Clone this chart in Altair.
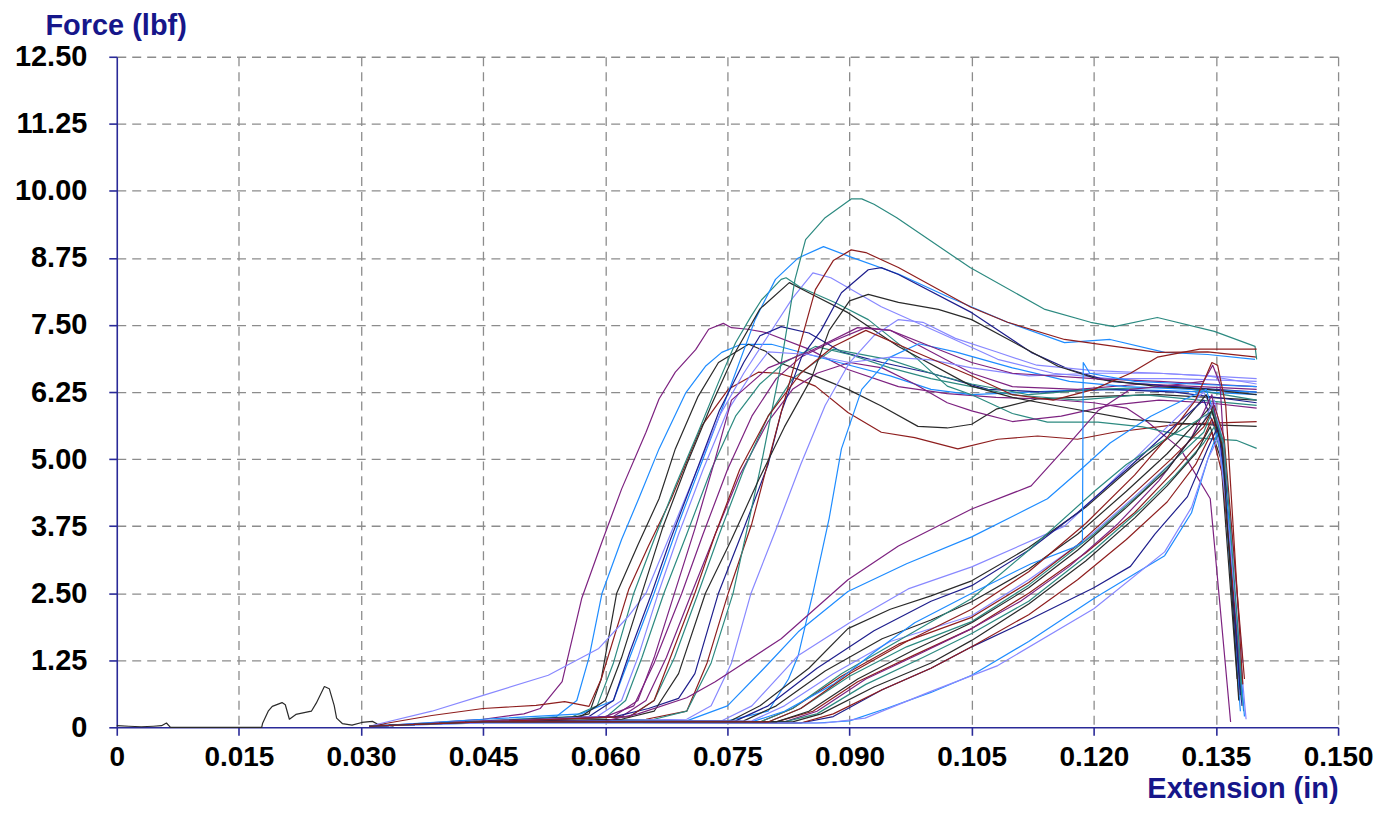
import altair as alt
import pandas as pd

X_TICKS = [0, 0.015, 0.030, 0.045, 0.060, 0.075, 0.090, 0.105, 0.120, 0.135, 0.150]
Y_TICKS = [0, 1.25, 2.50, 3.75, 5.00, 6.25, 7.50, 8.75, 10.00, 11.25, 12.50]

# ---- specimen curves: (extension in, force lbf) ----
C00 = [(0.0, 0.03), (0.0015, 0.02), (0.003, 0.01), (0.0045, 0.02), (0.0055, 0.03), (0.0061, 0.08), (0.0066, 0.0),
       (0.010, 0.0), (0.0178, 0.0), (0.0179, 0.07), (0.0186, 0.3), (0.0191, 0.39), (0.0203, 0.46), (0.0207, 0.42),
       (0.0212, 0.15), (0.022, 0.24), (0.0239, 0.30), (0.0245, 0.45), (0.0255, 0.76), (0.0261, 0.72), (0.0267, 0.41),
       (0.027, 0.17), (0.0277, 0.07), (0.0289, 0.04), (0.0301, 0.09), (0.0314, 0.11), (0.032, 0.06), (0.034, 0.02)]

A01 = [(0.031, 0.02), (0.038, 0.08), (0.045, 0.15), (0.050, 0.25), (0.052, 0.35), (0.0547, 0.85), (0.0571, 2.4),
       (0.0596, 3.46), (0.062, 4.44), (0.065, 5.5), (0.0666, 6.12), (0.0686, 6.62), (0.0711, 7.04), (0.0727, 7.42),
       (0.0745, 7.53), (0.0755, 7.45), (0.0775, 7.42), (0.0797, 7.36), (0.085, 7.05), (0.0898, 6.67), (0.096, 6.35),
       (0.102, 6.22), (0.108, 6.15), (0.114, 6.12), (0.120, 6.05), (0.124, 5.95), (0.1266, 5.69), (0.1306, 5.2),
       (0.1343, 4.26), (0.1368, 0.1)]
A02 = [(0.031, 0.02), (0.045, 0.1), (0.054, 0.2), (0.0565, 0.5), (0.058, 1.3), (0.0596, 2.5), (0.062, 3.5),
       (0.0641, 4.26), (0.0666, 5.19), (0.0699, 6.24), (0.0723, 6.73), (0.0743, 6.99), (0.0767, 7.14), (0.0804, 7.14),
       (0.085, 6.95), (0.090, 6.75), (0.095, 6.55), (0.100, 6.3), (0.105, 6.2), (0.112, 6.25), (0.120, 6.3),
       (0.128, 6.28), (0.134, 6.25), (0.140, 6.2)]
A03 = [(0.031, 0.02), (0.045, 0.1), (0.055, 0.15), (0.058, 0.25), (0.0595, 0.9), (0.0614, 2.5), (0.064, 3.4),
       (0.0666, 4.26), (0.0686, 5.19), (0.0714, 6.17), (0.0739, 6.8), (0.0776, 7.14), (0.0797, 7.01), (0.0813, 6.8),
       (0.0853, 6.58), (0.0898, 6.3), (0.0939, 5.99), (0.0984, 5.61), (0.102, 5.58), (0.105, 5.65), (0.108, 5.93),
       (0.113, 6.12), (0.1205, 6.17), (0.128, 6.2), (0.134, 6.15), (0.140, 6.1)]
A04 = [(0.031, 0.02), (0.0387, 0.22), (0.045, 0.35), (0.0515, 0.41), (0.055, 0.48), (0.058, 0.39), (0.0595, 0.9),
       (0.0629, 2.58), (0.0653, 3.38), (0.0681, 4.26), (0.0718, 5.61), (0.0751, 6.3), (0.0788, 6.62), (0.0813, 6.6),
       (0.0837, 6.49), (0.0858, 6.36), (0.0898, 5.87), (0.0939, 5.5), (0.098, 5.4), (0.1033, 5.19), (0.1082, 5.37),
       (0.1131, 5.43), (0.118, 5.37), (0.1225, 5.5), (0.1306, 5.65), (0.140, 5.7)]
A05 = [(0.031, 0.02), (0.045, 0.12), (0.056, 0.2), (0.059, 0.4), (0.061, 1.2), (0.0635, 2.5), (0.066, 3.5),
       (0.0686, 4.5), (0.0714, 5.5), (0.0739, 6.43), (0.076, 7.17), (0.0779, 7.66), (0.0792, 7.97), (0.0816, 8.35),
       (0.0822, 8.38), (0.084, 8.2), (0.0882, 7.92), (0.0923, 7.6), (0.098, 6.91), (0.102, 6.36), (0.105, 6.2),
       (0.110, 5.85), (0.1143, 5.69), (0.1205, 5.69), (0.126, 5.6), (0.132, 5.4), (0.1375, 5.35), (0.140, 5.2)]
A06 = [(0.031, 0.02), (0.045, 0.15), (0.057, 0.25), (0.061, 0.5), (0.063, 1.3), (0.066, 2.5), (0.069, 3.8),
       (0.072, 5.0), (0.075, 6.2), (0.0784, 7.6), (0.0809, 8.35), (0.0837, 8.75), (0.0868, 8.96), (0.0901, 8.77),
       (0.096, 8.45), (0.102, 8.03), (0.1094, 7.55), (0.1164, 7.17), (0.122, 7.23), (0.1287, 6.99), (0.134, 6.95),
       (0.1398, 6.86)]
A07 = [(0.031, 0.02), (0.0387, 0.3), (0.0449, 0.59), (0.053, 0.97), (0.0592, 1.47), (0.0629, 2.08), (0.065, 2.5),
       (0.068, 3.6), (0.071, 4.7), (0.074, 5.8), (0.077, 6.6), (0.080, 7.3), (0.083, 8.0), (0.0855, 8.47),
       (0.0877, 8.38), (0.0939, 7.84), (0.102, 7.29), (0.1082, 6.86), (0.115, 6.6), (0.122, 6.5), (0.130, 6.5),
       (0.140, 6.45)]
A08 = [(0.031, 0.02), (0.045, 0.1), (0.058, 0.2), (0.061, 0.5), (0.063, 1.4), (0.0657, 2.5), (0.068, 3.5),
       (0.071, 4.7), (0.074, 5.9), (0.077, 6.8), (0.079, 7.3), (0.0816, 7.47), (0.085, 7.35), (0.089, 7.0),
       (0.094, 6.8), (0.100, 6.6), (0.107, 6.3), (0.114, 6.25), (0.122, 6.3), (0.130, 6.25), (0.140, 6.05)]
A09 = [(0.031, 0.02), (0.045, 0.1), (0.060, 0.18), (0.0625, 0.5), (0.0645, 1.3), (0.0672, 2.5), (0.070, 3.6),
       (0.073, 4.8), (0.076, 5.8), (0.079, 6.4), (0.082, 6.8), (0.0858, 7.1), (0.090, 6.95), (0.095, 6.7),
       (0.100, 6.5), (0.105, 6.35), (0.110, 6.2), (0.118, 6.1), (0.126, 6.2), (0.133, 6.1), (0.140, 6.0)]
A10 = [(0.031, 0.02), (0.045, 0.12), (0.060, 0.2), (0.0635, 0.4), (0.066, 1.2), (0.0694, 2.5), (0.072, 3.6),
       (0.075, 4.8), (0.078, 5.8), (0.081, 6.5), (0.084, 6.9), (0.088, 7.2), (0.092, 7.45), (0.095, 7.4),
       (0.100, 7.0), (0.105, 6.6), (0.110, 6.35), (0.118, 6.3), (0.126, 6.4), (0.133, 6.35), (0.140, 6.3)]
A11 = [(0.031, 0.02), (0.045, 0.1), (0.062, 0.2), (0.065, 0.5), (0.0675, 1.3), (0.0706, 2.5), (0.0735, 3.6),
       (0.0765, 4.7), (0.080, 5.7), (0.083, 6.3), (0.086, 6.6), (0.090, 6.8), (0.094, 6.7), (0.098, 6.4),
       (0.102, 6.05), (0.105, 5.9), (0.110, 5.7), (0.116, 5.8), (0.122, 6.0), (0.128, 6.1), (0.134, 6.05),
       (0.140, 5.95)]
A12 = [(0.031, 0.02), (0.045, 0.1), (0.063, 0.2), (0.066, 0.5), (0.0685, 1.3), (0.0714, 2.5), (0.074, 3.6),
       (0.077, 4.8), (0.080, 5.8), (0.083, 6.5), (0.088, 7.05), (0.095, 6.85), (0.100, 6.6), (0.105, 6.4),
       (0.112, 6.2), (0.120, 6.3), (0.130, 6.35), (0.140, 6.1)]
A13 = [(0.031, 0.02), (0.045, 0.1), (0.057, 0.2), (0.060, 0.5), (0.062, 1.3), (0.0645, 2.5), (0.067, 3.7),
       (0.070, 4.9), (0.073, 6.0), (0.076, 7.0), (0.079, 7.8), (0.0826, 8.29), (0.085, 8.1), (0.0898, 7.73),
       (0.096, 7.1), (0.105, 6.36), (0.110, 6.15), (0.1156, 5.99), (0.1245, 5.74), (0.132, 5.65), (0.140, 5.61)]
A14 = [(0.031, 0.02), (0.045, 0.1), (0.0612, 0.2), (0.0653, 0.35), (0.069, 0.54), (0.071, 1.0), (0.0739, 2.5),
       (0.077, 3.7), (0.080, 4.9), (0.0816, 5.87), (0.0841, 6.9), (0.0865, 7.4), (0.089, 8.1), (0.0923, 8.53),
       (0.0939, 8.57), (0.096, 8.44), (0.105, 7.73), (0.1123, 6.99), (0.117, 6.67), (0.122, 6.45), (0.130, 6.35),
       (0.140, 6.25)]
A15 = [(0.031, 0.02), (0.045, 0.1), (0.065, 0.15), (0.070, 0.3), (0.0725, 1.2), (0.0751, 2.5), (0.078, 3.8),
       (0.0816, 5.87), (0.0841, 7.23), (0.0858, 8.16), (0.088, 8.7), (0.0902, 8.9), (0.092, 8.85), (0.096, 8.57),
       (0.1049, 7.83), (0.1094, 7.55), (0.1164, 7.23), (0.1278, 6.99), (0.134, 7.0), (0.140, 6.9)]
A16 = [(0.031, 0.02), (0.045, 0.1), (0.066, 0.15), (0.070, 0.3), (0.073, 1.2), (0.0757, 2.5), (0.0792, 4.94),
       (0.0815, 6.7), (0.0833, 8.35), (0.0846, 9.09), (0.087, 9.5), (0.0902, 9.85), (0.0915, 9.85), (0.093, 9.75),
       (0.0958, 9.5), (0.1048, 8.57), (0.114, 7.79), (0.1196, 7.55), (0.1225, 7.47), (0.1278, 7.64), (0.1348, 7.38),
       (0.1398, 7.1), (0.140, 6.86)]
A17 = [(0.031, 0.02), (0.045, 0.1), (0.070, 0.15), (0.073, 0.4), (0.0755, 1.2), (0.0779, 2.5), (0.081, 3.7),
       (0.084, 4.9), (0.087, 6.0), (0.090, 6.8), (0.093, 7.3), (0.096, 7.6), (0.099, 7.55), (0.103, 7.25),
       (0.108, 7.0), (0.113, 6.75), (0.120, 6.65), (0.128, 6.6), (0.134, 6.55), (0.140, 6.5)]
A18 = [(0.031, 0.02), (0.045, 0.1), (0.075, 0.12), (0.080, 0.3), (0.0825, 0.9), (0.0837, 1.34), (0.0855, 2.5),
       (0.0875, 3.9), (0.089, 5.19), (0.0915, 6.3), (0.095, 6.9), (0.0985, 7.15), (0.103, 7.0), (0.110, 6.7),
       (0.117, 6.45), (0.124, 6.35), (0.132, 6.3), (0.140, 6.25)]
A19 = [(0.031, 0.02), (0.045, 0.1), (0.059, 0.2), (0.062, 0.5), (0.064, 1.3), (0.0665, 2.5), (0.069, 3.6),
       (0.072, 4.8), (0.075, 5.9), (0.078, 6.6), (0.080, 7.0), (0.085, 6.95), (0.090, 6.8), (0.095, 6.9),
       (0.100, 6.85), (0.105, 6.7), (0.112, 6.55), (0.120, 6.6), (0.128, 6.6), (0.134, 6.55), (0.140, 6.4)]
A20 = [(0.031, 0.02), (0.045, 0.1), (0.062, 0.15), (0.066, 0.3), (0.069, 1.0), (0.0723, 2.5), (0.0755, 3.5),
       (0.0788, 4.6), (0.082, 5.6), (0.0853, 6.5), (0.0875, 7.4), (0.090, 7.95), (0.0923, 8.07), (0.096, 7.92),
       (0.1009, 7.79), (0.105, 7.6), (0.1156, 6.73), (0.1205, 6.49), (0.128, 6.35), (0.134, 6.3), (0.140, 6.2)]
A21 = [(0.031, 0.02), (0.045, 0.1), (0.061, 0.2), (0.064, 0.5), (0.066, 1.3), (0.0685, 2.5), (0.071, 3.7),
       (0.0735, 5.0), (0.0755, 6.1), (0.080, 6.7), (0.085, 7.0), (0.091, 7.45), (0.095, 7.4), (0.100, 7.1),
       (0.105, 6.8), (0.110, 6.6), (0.120, 6.5), (0.128, 6.45), (0.134, 6.4), (0.140, 6.35)]
A22 = [(0.031, 0.02), (0.045, 0.1), (0.063, 0.2), (0.066, 0.5), (0.068, 1.3), (0.071, 2.5), (0.0735, 3.6),
       (0.0765, 4.8), (0.080, 5.8), (0.084, 6.6), (0.088, 7.1), (0.092, 7.4), (0.098, 7.0), (0.105, 6.55),
       (0.110, 6.2), (0.115, 6.1), (0.120, 6.3), (0.1245, 6.6), (0.1278, 6.9), (0.133, 7.05), (0.140, 7.05)]

B01 = [(0.031, 0.02), (0.045, 0.1), (0.060, 0.12), (0.064, 0.25), (0.070, 0.55), (0.0735, 0.85), (0.0816, 1.65),
       (0.0898, 2.75), (0.096, 3.38), (0.105, 4.07), (0.1123, 4.5), (0.1164, 5.19), (0.1205, 5.9), (0.1245, 6.3),
       (0.128, 6.35), (0.1335, 6.45), (0.1346, 6.75), (0.1355, 6.4), (0.1378, 0.6)]
B02 = [(0.031, 0.02), (0.045, 0.1), (0.070, 0.12), (0.075, 0.4), (0.0795, 1.1), (0.0837, 1.78), (0.0898, 2.53),
       (0.097, 3.05), (0.105, 3.55), (0.1143, 4.26), (0.118, 4.75), (0.122, 5.3), (0.127, 5.8), (0.131, 6.1),
       (0.1338, 6.3), (0.1355, 5.5), (0.1380, 0.3)]
B03 = [(0.031, 0.02), (0.045, 0.1), (0.074, 0.1), (0.078, 0.4), (0.0837, 1.34), (0.090, 1.95), (0.0972, 2.58),
       (0.105, 2.99), (0.1164, 3.75), (0.121, 4.4), (0.125, 5.0), (0.129, 5.6), (0.1335, 6.25), (0.1355, 5.6),
       (0.1381, 0.5)]
B04 = [(0.031, 0.02), (0.045, 0.1), (0.0751, 0.1), (0.079, 0.4), (0.085, 1.1), (0.0898, 1.84), (0.095, 2.2),
       (0.100, 2.45), (0.105, 2.73), (0.112, 3.35), (0.119, 4.1), (0.125, 4.9), (0.130, 5.5), (0.1338, 6.2),
       (0.1356, 5.4), (0.1380, 0.9)]
B05 = [(0.031, 0.02), (0.045, 0.1), (0.076, 0.12), (0.080, 0.4), (0.086, 1.1), (0.093, 1.8), (0.100, 2.35),
       (0.105, 2.64), (0.112, 3.3), (0.118, 4.0), (0.124, 4.8), (0.129, 5.5), (0.1335, 6.1), (0.1356, 5.3),
       (0.1382, 0.4)]
B06 = [(0.031, 0.02), (0.045, 0.1), (0.077, 0.12), (0.081, 0.4), (0.087, 1.05), (0.094, 1.65), (0.100, 2.0),
       (0.105, 2.34), (0.112, 2.95), (0.118, 3.6), (0.124, 4.4), (0.129, 5.1), (0.1333, 5.8), (0.1345, 6.0),
       (0.1358, 5.0), (0.1380, 0.7)]
B07 = [(0.031, 0.02), (0.045, 0.1), (0.078, 0.12), (0.082, 0.4), (0.088, 1.0), (0.095, 1.6), (0.105, 2.08),
       (0.112, 2.75), (0.119, 3.5), (0.125, 4.3), (0.130, 5.0), (0.1335, 5.7), (0.1348, 6.1), (0.136, 5.2),
       (0.1383, 1.2)]
B08 = [(0.031, 0.02), (0.045, 0.1), (0.079, 0.1), (0.083, 0.35), (0.089, 0.95), (0.096, 1.55), (0.105, 2.05),
       (0.112, 2.7), (0.118, 3.4), (0.1245, 4.3), (0.1295, 5.0), (0.1335, 5.6), (0.1348, 6.0), (0.136, 5.4),
       (0.1385, 0.9)]
B09 = [(0.031, 0.02), (0.045, 0.1), (0.080, 0.1), (0.084, 0.35), (0.090, 0.95), (0.097, 1.5), (0.105, 1.97),
       (0.112, 2.65), (0.120, 3.6), (0.126, 4.4), (0.130, 5.0), (0.1335, 5.5), (0.1347, 5.95), (0.1358, 5.3),
       (0.1382, 0.5)]
B10 = [(0.031, 0.02), (0.045, 0.1), (0.081, 0.1), (0.0855, 0.3), (0.091, 0.85), (0.098, 1.35), (0.105, 1.84),
       (0.112, 2.5), (0.119, 3.25), (0.125, 4.0), (0.130, 4.8), (0.1335, 5.4), (0.1345, 5.75), (0.1357, 5.3),
       (0.1378, 1.5)]
B11 = [(0.031, 0.02), (0.045, 0.1), (0.082, 0.1), (0.086, 0.3), (0.092, 0.9), (0.099, 1.4), (0.105, 1.84),
       (0.111, 2.35), (0.117, 3.0), (0.123, 3.8), (0.128, 4.6), (0.132, 5.4), (0.1345, 6.2), (0.1358, 5.0),
       (0.1380, 1.0)]
B12 = [(0.031, 0.02), (0.045, 0.1), (0.082, 0.1), (0.086, 0.25), (0.092, 0.8), (0.099, 1.3), (0.105, 1.75),
       (0.112, 2.35), (0.120, 3.3), (0.126, 4.1), (0.130, 4.7), (0.1335, 5.3), (0.1348, 5.6), (0.1360, 4.8),
       (0.1384, 0.3)]
B13 = [(0.031, 0.02), (0.045, 0.1), (0.083, 0.1), (0.0865, 0.25), (0.093, 0.75), (0.100, 1.2), (0.105, 1.62),
       (0.112, 2.3), (0.119, 3.1), (0.125, 3.9), (0.129, 4.5), (0.1325, 5.1), (0.1343, 5.6), (0.1356, 5.0),
       (0.1376, 0.9)]
B14 = [(0.031, 0.02), (0.045, 0.1), (0.084, 0.08), (0.088, 0.2), (0.094, 0.7), (0.100, 1.1), (0.105, 1.5),
       (0.112, 2.0), (0.120, 2.6), (0.1245, 3.0), (0.1275, 3.6), (0.1315, 4.3), (0.134, 5.2), (0.1352, 5.6),
       (0.1362, 4.5), (0.1380, 0.6)]
B15 = [(0.031, 0.02), (0.045, 0.1), (0.084, 0.08), (0.088, 0.25), (0.094, 0.7), (0.100, 1.1), (0.105, 1.5),
       (0.112, 2.1), (0.118, 2.75), (0.124, 3.5), (0.129, 4.2), (0.1325, 4.9), (0.1345, 5.5), (0.1358, 4.7),
       (0.1379, 1.3)]
B16 = [(0.031, 0.02), (0.045, 0.08), (0.086, 0.08), (0.090, 0.12), (0.0945, 0.35), (0.100, 0.65), (0.105, 0.97),
       (0.112, 1.6), (0.120, 2.4), (0.1287, 3.2), (0.132, 4.0), (0.134, 5.0), (0.1352, 5.5), (0.1365, 4.0),
       (0.1385, 0.2)]
B17 = [(0.031, 0.02), (0.045, 0.08), (0.087, 0.08), (0.0919, 0.17), (0.100, 0.67), (0.1082, 1.15), (0.120, 2.21),
       (0.1287, 3.27), (0.132, 4.1), (0.134, 5.0), (0.1353, 5.4), (0.1367, 3.5), (0.1387, 0.15)]
B18 = [(0.031, 0.02), (0.045, 0.1), (0.079, 0.1), (0.083, 0.35), (0.089, 1.0), (0.097, 1.7), (0.105, 2.4),
       (0.112, 3.3), (0.120, 4.39), (0.124, 4.9), (0.128, 5.3), (0.1325, 5.7), (0.1346, 5.9), (0.136, 5.3),
       (0.1382, 0.8)]
B19 = [(0.031, 0.02), (0.045, 0.1), (0.078, 0.1), (0.082, 0.3), (0.088, 0.8), (0.093, 1.4), (0.098, 1.95),
       (0.105, 2.5), (0.1123, 3.05), (0.1175, 3.35), (0.1186, 3.45), (0.1187, 6.8), (0.1195, 6.6), (0.125, 6.45),
       (0.132, 6.4), (0.140, 6.35)]
B20 = [(0.031, 0.02), (0.045, 0.1), (0.081, 0.1), (0.085, 0.3), (0.091, 0.9), (0.098, 1.45), (0.105, 1.95),
       (0.112, 2.6), (0.118, 3.3), (0.124, 4.1), (0.129, 4.8), (0.133, 5.6), (0.1345, 5.9), (0.1358, 5.2),
       (0.1378, 0.5)]
B21 = [(0.031, 0.02), (0.045, 0.1), (0.080, 0.1), (0.084, 0.35), (0.090, 1.0), (0.097, 1.6), (0.105, 2.2),
       (0.112, 2.9), (0.119, 3.8), (0.125, 4.7), (0.129, 5.4), (0.1325, 6.1), (0.1345, 6.8), (0.1352, 6.75),
       (0.1362, 6.0), (0.1383, 0.8)]

# colour key of each specimen
SERIES = [
    ("C00", C00, "K"),
    ("A01", A01, "P"), ("A02", A02, "B"), ("A03", A03, "K"), ("A04", A04, "R"), ("A05", A05, "T"),
    ("A06", A06, "B"), ("A07", A07, "L"), ("A08", A08, "N"), ("A09", A09, "T"), ("A10", A10, "P"),
    ("A11", A11, "P"), ("A12", A12, "T"), ("A13", A13, "K"), ("A14", A14, "N"), ("A15", A15, "R"),
    ("A16", A16, "T"), ("A17", A17, "L"), ("A18", A18, "B"), ("A19", A19, "L"), ("A20", A20, "K"),
    ("A21", A21, "P"), ("A22", A22, "R"),
    ("B01", B01, "P"), ("B02", B02, "B"), ("B03", B03, "L"), ("B04", B04, "K"), ("B05", B05, "N"),
    ("B06", B06, "K"), ("B07", B07, "L"), ("B08", B08, "R"), ("B09", B09, "T"), ("B10", B10, "R"),
    ("B11", B11, "P"), ("B12", B12, "T"), ("B13", B13, "K"), ("B14", B14, "N"), ("B15", B15, "R"),
    ("B16", B16, "B"), ("B17", B17, "L"), ("B18", B18, "T"), ("B19", B19, "B"), ("B20", B20, "K"),
    ("B21", B21, "R"),
]
PALETTE = {"P": "#7D2280", "B": "#1E8CFF", "K": "#2A2A2A", "T": "#2C8A80",
           "R": "#8E1E1E", "N": "#1E1E8C", "L": "#8888FF"}

rows = []
for name, pts, ck in SERIES:
    for i, (xv, yv) in enumerate(pts):
        rows.append({"s": name, "i": i, "x": xv, "y": yv})
df = pd.DataFrame(rows)

names = [s[0] for s in SERIES]
cols = [PALETTE[s[2]] for s in SERIES]

NAVY = "#2A2A98"
FONT = "Liberation Sans"
no_zero_grid = {"condition": {"test": "datum.value === 0", "value": 0}, "value": 1}

chart = alt.Chart(df).mark_line(strokeWidth=1.2, strokeJoin="round").encode(
    x=alt.X("x:Q",
            scale=alt.Scale(domain=[0, 0.15], nice=False, zero=False),
            axis=alt.Axis(values=X_TICKS, title="Extension (in)",
                          labelExpr="datum.value == 0 ? '0' : format(datum.value, '.3f')",
                          labelPadding=8, labelFontSize=28, labelFlush=False, labelOverlap=False,
                          titleAlign="right", titleX=1224, titleY=70, titleBaseline="alphabetic",
                          gridOpacity=no_zero_grid)),
    y=alt.Y("y:Q",
            scale=alt.Scale(domain=[0, 12.5], nice=False),
            axis=alt.Axis(values=Y_TICKS, title="Force (lbf)",
                          labelExpr="datum.value == 0 ? '0' : format(datum.value, '.2f')",
                          labelPadding=22, labelFlush=False, labelOverlap=False,
                          titleAngle=0, titleAlign="left", titleX=-72, titleY=-22,
                          titleBaseline="alphabetic", gridOpacity=no_zero_grid)),
    color=alt.Color("s:N", scale=alt.Scale(domain=names, range=cols), legend=None),
    order=alt.Order("i:Q"),
).properties(
    width=1224, height=672,
    padding={"left": 109, "top": 48, "right": 40, "bottom": 77},
    autosize=alt.AutoSizeParams(type="none"),
).configure_view(stroke=None).configure_axis(
    grid=True, gridColor="#8C8C8C", gridDash=[9, 6], gridWidth=1.3,
    domainColor=NAVY, domainWidth=1.6, tickColor=NAVY, tickWidth=1.6, tickSize=8,
    labelFont=FONT, labelFontSize=29, labelFontWeight="bold", labelColor="#000000",
    titleFont=FONT, titleFontSize=29, titleFontWeight="bold", titleColor="#16168A",
)

chart.save("out.html", embed_options={"renderer": "svg", "actions": False})
